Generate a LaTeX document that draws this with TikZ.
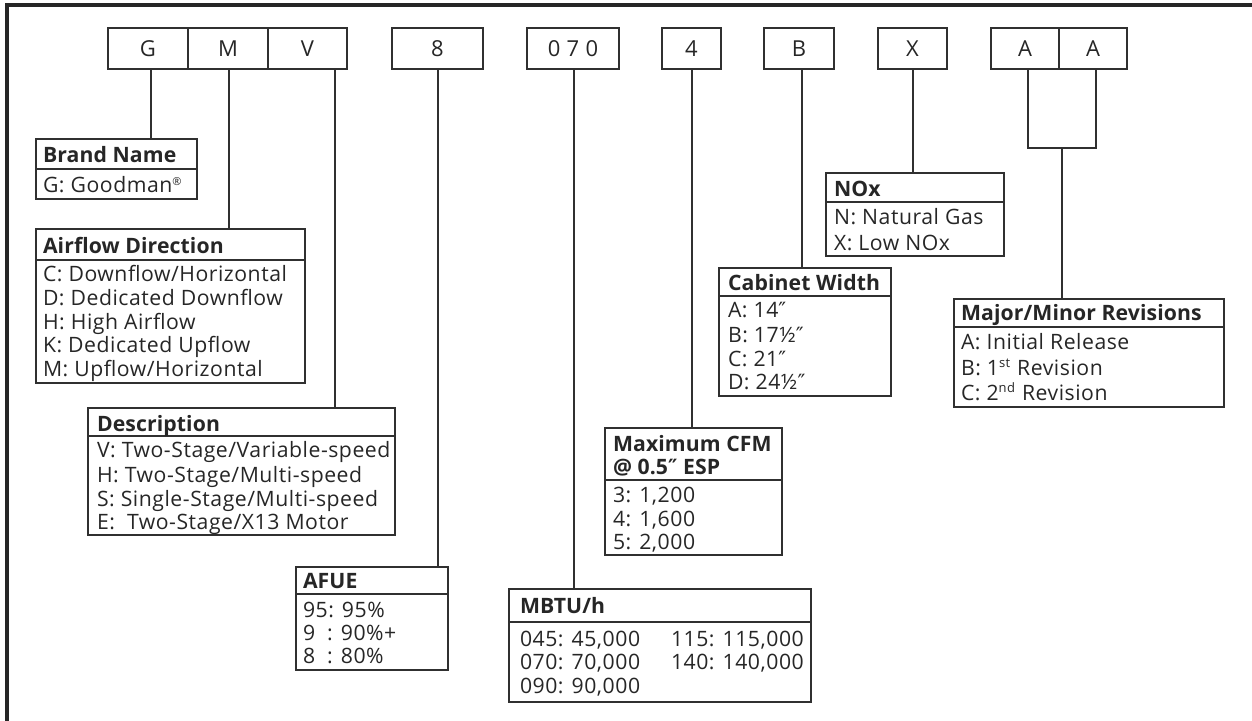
\documentclass[tikz,border=0pt]{standalone}
\usepackage{fontspec}
\setmainfont{Open Sans}[LetterSpace=2.5]
\newfontfamily\hdrfont{Open Sans}[LetterSpace=0.5]
\newfontfamily\primefont{DejaVu Sans}
\usetikzlibrary{calc}
\definecolor{ink}{HTML}{262626}
\definecolor{rule}{HTML}{303030}
\newcommand\inch{{\primefont\fontsize{10.5pt}{10pt}\selectfont ″}}
\newcommand\sups[1]{\textsuperscript{\fontsize{6.5pt}{6.5pt}\selectfont #1}}
\newcommand\codebox[6]{%
  \node[codecell, minimum width={(#4-#2)*0.5pt}, minimum height={(#5-#3)*0.5pt}] (#1) at (#2,#3) {#6};}
\newcommand\fieldbox[6]{%
  \node[fieldcell, minimum width={(#4-#2)*0.5pt}, minimum height={(#5-#3)*0.5pt}] (#1) at (#2,#3) {};
  \draw[boxline] (#2,#6) -- (#4,#6);}
\tikzset{
  codecell/.style={draw=rule, line width=0.8pt, anchor=north west, inner sep=0pt, outer sep=0pt,
    text=ink, font=\fontsize{11pt}{12pt}\selectfont},
  fieldcell/.style={draw=rule, line width=0.8pt, anchor=north west, inner sep=0pt, outer sep=0pt},
  boxline/.style={draw=rule, line width=0.8pt},
  txt/.style={anchor=west, inner sep=0pt, outer sep=0pt, text=ink, text height=7.5pt, text depth=0pt,
    font=\fontsize{10.6pt}{12pt}\selectfont},
  hdr/.style={txt, font=\hdrfont\fontsize{10.6pt}{12pt}\selectfont\bfseries},
  conn/.style={draw=rule, line width=1pt},
  frame/.style={draw=ink, line width=1.6pt}
}
\begin{document}
\begin{tikzpicture}[x=0.5pt,y=-0.5pt]
\useasboundingbox (0,0) rectangle (1252,721);
\draw[frame] (7,721) -- (7,5) -- (1252,5);

% code boxes
\codebox{G}{108}{28}{188}{69}{G}
\codebox{M}{188}{28}{268}{69}{M}
\codebox{V}{268}{28}{347}{69}{V}
\codebox{E}{392}{28}{483}{69}{8}
\codebox{T}{527}{28}{619}{69}{0 7 0}
\codebox{F}{662}{28}{721}{69}{4}
\codebox{B}{764}{28}{834}{69}{B}
\codebox{X}{878}{28}{947}{69}{X}
\codebox{A1}{991}{28}{1059}{69}{A}
\codebox{A2}{1059}{28}{1127}{69}{A}

% field boxes
\fieldbox{brand}{36}{139}{197}{199}{169}
\node[hdr] (brandh) at (43,155.5) {Brand Name};
\node[txt] (brand1) at (43,185.5) {G: Goodman\textsuperscript{\fontsize{5.5pt}{6pt}\selectfont ®}};

\fieldbox{air}{36}{229}{305}{383}{260}
\node[hdr] (airh) at (43,246.5) {Airflow Direction};
\node[txt] (air1) at (43,274.5) {C: Downflow/Horizontal};
\node[txt] (air2) at (43,298) {D: Dedicated Downflow};
\node[txt] (air3) at (43,322) {H: High Airflow};
\node[txt] (air4) at (43,345.5) {K: Dedicated Upflow};
\node[txt] (air5) at (43,369.5) {M: Upflow/Horizontal};

\fieldbox{desc}{88}{408}{395}{535}{436}
\node[hdr] (desch) at (97,424) {Description};
\node[txt] (desc1) at (97,450) {V: Two-Stage/Variable-speed};
\node[txt] (desc2) at (97,474.5) {H: Two-Stage/Multi-speed};
\node[txt] (desc3) at (97,498.5) {S: Single-Stage/Multi-speed};
\node[txt] (desc4) at (97,522) {E:\ \ Two-Stage/X13 Motor};

\fieldbox{afue}{296}{567}{448}{670}{594}
\node[hdr] (afueh) at (303,581) {AFUE};
\node[txt] (afue1) at (303,609.5) {95: 95\%};
\node[txt] (afue2) at (303,633) {9\hphantom{5}: 90\%+};
\node[txt] (afue3) at (303,656) {8\hphantom{5}: 80\%};

\fieldbox{mbtu}{509}{589}{811}{702}{622}
\node[hdr] (mbtuh) at (520,606) {MBTU/h};
\node[txt] (mbtu1) at (520,639) {045: 45,000};
\node[txt] (mbtu2) at (520,662) {070: 70,000};
\node[txt] (mbtu3) at (520,685.5) {090: 90,000};
\node[txt] (mbtu4) at (671,639) {115: 115,000};
\node[txt] (mbtu5) at (671,662) {140: 140,000};

\fieldbox{cfm}{605}{428}{782}{555}{480}
\node[hdr] (cfmh1) at (613,444) {Maximum CFM};
\node[hdr] (cfmh2) at (613,467) {@ 0.5\inch\ ESP};
\node[txt] (cfm1) at (613,495) {3: 1,200};
\node[txt] (cfm2) at (613,519) {4: 1,600};
\node[txt] (cfm3) at (613,542) {5: 2,000};

\fieldbox{cab}{719}{268}{891}{396}{296}
\node[hdr] (cabh) at (728,283.5) {Cabinet Width};
\node[txt] (cab1) at (728,310.5) {A: 14\inch};
\node[txt] (cab2) at (728,335) {B: 17½\inch};
\node[txt] (cab3) at (728,358.5) {C: 21\inch};
\node[txt] (cab4) at (728,382.5) {D: 24½\inch};

\fieldbox{nox}{826}{173}{1004}{256}{202}
\node[hdr] (noxh) at (834,189) {NOx};
\node[txt] (nox1) at (834,217) {N: Natural Gas};
\node[txt] (nox2) at (834,243) {X: Low NOx};

\fieldbox{rev}{954}{299}{1224}{407}{327}
\node[hdr] (revh) at (961,313) {Major/Minor Revisions};
\node[txt] (rev1) at (961,342) {A: Initial Release};
\node[txt] (rev2) at (961,368) {B: 1\sups{st} Revision};
\node[txt] (rev3) at (961,393) {C: 2\sups{nd} Revision};

% connector x positions
\coordinate (lG) at (151,0);
\coordinate (lM) at (229,0);
\coordinate (lV) at (335,0);
\coordinate (lE) at (438,0);
\coordinate (lT) at (574,0);
\coordinate (lF) at (692,0);
\coordinate (lB) at (802,0);
\coordinate (lX) at (913,0);
\coordinate (lA1) at (1028,0);
\coordinate (lA2) at (1096,0);
\coordinate (br) at (1062,148);

\draw[conn] (G.south -| lG) -- (brand.north -| lG);
\draw[conn] (M.south -| lM) -- (air.north -| lM);
\draw[conn] (V.south -| lV) -- (desc.north -| lV);
\draw[conn] (E.south -| lE) -- (afue.north -| lE);
\draw[conn] (T.south -| lT) -- (mbtu.north -| lT);
\draw[conn] (F.south -| lF) -- (cfm.north -| lF);
\draw[conn] (B.south -| lB) -- (cab.north -| lB);
\draw[conn] (X.south -| lX) -- (nox.north -| lX);
\draw[conn] (A1.south -| lA1) -- (lA1 |- br) -- (lA2 |- br) -- (A2.south -| lA2);
\draw[conn] (br) -- (rev.north -| br);
\end{tikzpicture}
\end{document}
